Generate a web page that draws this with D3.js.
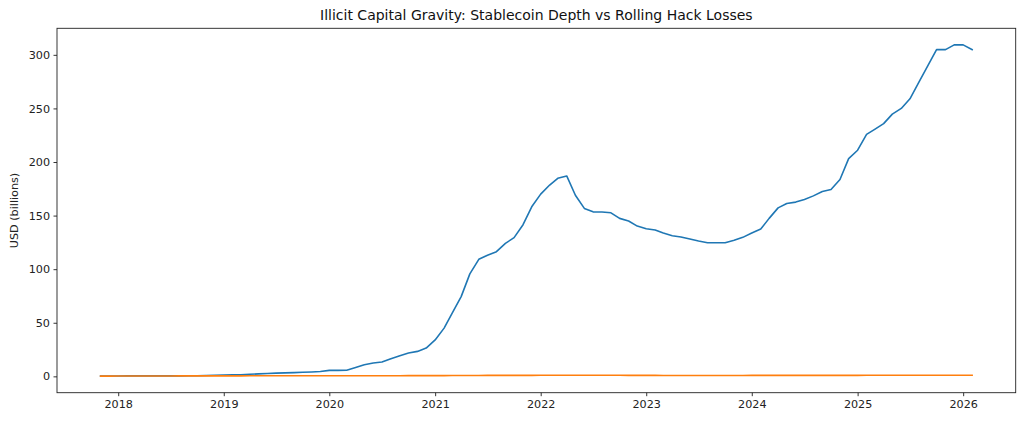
<!DOCTYPE html>
<html><head><meta charset="utf-8">
<script src="https://cdn.jsdelivr.net/npm/d3@7"></script>
<style>body{margin:0;background:#fff}svg{display:block;font-family:"DejaVu Sans",sans-serif}</style>
</head><body>
<svg id="c" width="1024" height="422"></svg>
<script>
const months = [
"2017-11","2017-12",
"2018-01","2018-02","2018-03","2018-04","2018-05","2018-06","2018-07","2018-08","2018-09","2018-10","2018-11","2018-12",
"2019-01","2019-02","2019-03","2019-04","2019-05","2019-06","2019-07","2019-08","2019-09","2019-10","2019-11","2019-12",
"2020-01","2020-02","2020-03","2020-04","2020-05","2020-06","2020-07","2020-08","2020-09","2020-10","2020-11","2020-12",
"2021-01","2021-02","2021-03","2021-04","2021-05","2021-06","2021-07","2021-08","2021-09","2021-10","2021-11","2021-12",
"2022-01","2022-02","2022-03","2022-04","2022-05","2022-06","2022-07","2022-08","2022-09","2022-10","2022-11","2022-12",
"2023-01","2023-02","2023-03","2023-04","2023-05","2023-06","2023-07","2023-08","2023-09","2023-10","2023-11","2023-12",
"2024-01","2024-02","2024-03","2024-04","2024-05","2024-06","2024-07","2024-08","2024-09","2024-10","2024-11","2024-12",
"2025-01","2025-02","2025-03","2025-04","2025-05","2025-06","2025-07","2025-08","2025-09","2025-10","2025-11","2025-12",
"2026-01","2026-02"];
const stablecoinDepth = [
0.3,0.3,
0.3,0.4,0.4,0.4,0.4,0.4,0.4,0.4,0.5,0.6,0.8,1.0,
1.3,1.4,1.5,1.9,2.3,2.7,3.0,3.2,3.5,3.8,4.1,4.5,
5.6,5.6,5.7,8.3,10.9,12.4,13.4,16.5,19.3,21.8,23.3,26.4,
34,45,59,74.4,95.6,109.2,113,116.3,124.1,129.4,141.5,158.2,
170,178.5,184.8,187,169,156.7,153.5,153.3,152.6,147.4,144.9,140.2,
137.7,136.5,133.7,131.2,130,128.1,126.3,124.7,124.7,124.7,126.9,129.7,
133.7,137.4,147.4,157.2,161.3,162.6,165,168.4,172.5,174.4,183.7,203.2,
211,225.8,230.5,235.8,244.7,250,259,274.5,290,304.9,304.9,309.3,
309.3,304.9];
const hackLosses = [
0.2,0.2,
0.3,0.3,0.3,0.3,0.3,0.3,0.3,0.4,0.4,0.4,0.4,0.4,
0.4,0.4,0.4,0.5,0.5,0.5,0.5,0.5,0.5,0.5,0.5,0.5,
0.5,0.5,0.5,0.5,0.5,0.6,0.6,0.6,0.6,0.7,0.7,0.7,
0.7,0.7,0.8,0.8,0.8,0.8,0.9,0.9,0.9,0.9,0.9,0.9,
1.0,1.0,1.0,1.0,1.0,1.0,1.0,1.0,1.0,1.0,0.9,0.9,
0.9,0.9,0.8,0.8,0.8,0.8,0.8,0.8,0.8,0.8,0.8,0.8,
0.9,0.9,0.9,0.9,0.9,0.9,0.9,0.9,0.9,0.9,0.9,0.9,
0.9,1.0,1.0,1.0,1.0,1.0,1.0,1.0,1.0,1.0,1.0,1.0,
1.0,1.0];
const yTicks = [0,50,100,150,200,250,300];
const xTickYears = [2018,2019,2020,2021,2022,2023,2024,2025,2026];
const titleText = "Illicit Capital Gravity: Stablecoin Depth vs Rolling Hack Losses";
const yLabelText = "USD (billions)";

const W = 1024, H = 422;
const m = {l:57, r:8.3, t:28.3, b:29.3};
const pw = W - m.l - m.r, ph = H - m.t - m.b;
const parse = d3.timeParse("%Y-%m");
const dates = months.map(parse);

const t0 = +dates[0], t1 = +dates[dates.length-1];
const dx = (t1 - t0) * 0.05;
const x = d3.scaleTime().domain([new Date(t0 - dx), new Date(t1 + dx)]).range([m.l, m.l + pw]);
const allV = stablecoinDepth.concat(hackLosses);
const vmin = d3.min(allV), vmax = d3.max(allV);
const dy = (vmax - vmin) * 0.05;
const y = d3.scaleLinear().domain([vmin - dy, vmax + dy]).range([m.t + ph, m.t]);

const svg = d3.select("#c");
svg.append("rect").attr("width", W).attr("height", H).attr("fill", "#fff");

const line = d3.line().x((d,i) => x(dates[i])).y(d => y(d));
svg.append("path").datum(stablecoinDepth).attr("d", line)
  .attr("fill","none").attr("stroke","#1f77b4").attr("stroke-width",1.6).attr("stroke-linejoin","round").attr("stroke-linecap","square");
svg.append("path").datum(hackLosses).attr("d", line)
  .attr("fill","none").attr("stroke","#ff7f0e").attr("stroke-width",1.6).attr("stroke-linejoin","round").attr("stroke-linecap","square");

const xAxis = d3.axisBottom(x).tickValues(xTickYears.map(yr => new Date(yr,0,1)))
  .tickFormat(d3.timeFormat("%Y")).tickSize(3.5).tickPadding(3.5);
const gx = svg.append("g").attr("transform", `translate(0,${m.t+ph})`).call(xAxis);
const yAxis = d3.axisLeft(y).tickValues(yTicks).tickFormat(d3.format("d")).tickSize(3.5).tickPadding(3.5);
const gy = svg.append("g").attr("transform", `translate(${m.l},0)`).call(yAxis);
[gx, gy].forEach(g => {
  g.select(".domain").remove();
  g.selectAll(".tick line").attr("stroke","#000").attr("stroke-width",0.8);
  g.selectAll(".tick text").attr("fill","#222").style("font-size","11.2px").style("font-family","'DejaVu Sans', sans-serif");
});

svg.append("rect").attr("x", m.l).attr("y", m.t).attr("width", pw).attr("height", ph)
  .attr("fill","none").attr("stroke","#222").attr("stroke-width",0.9);

svg.append("text").attr("x", m.l + pw/2).attr("y", m.t - 8.5)
  .attr("text-anchor","middle").style("font-size","14px").attr("fill","#111").text(titleText);
svg.append("text").attr("transform", `translate(18,${m.t + ph/2}) rotate(-90)`)
  .attr("text-anchor","middle").style("font-size","11.2px").attr("fill","#222").text(yLabelText);
</script>
</body></html>
